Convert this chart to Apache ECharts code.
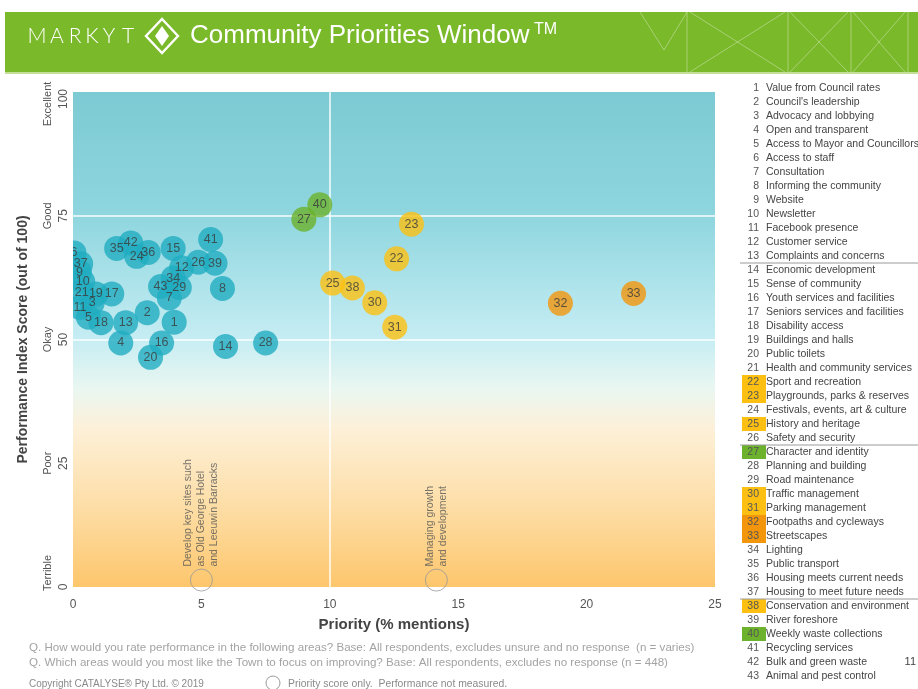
<!DOCTYPE html>
<html><head><meta charset="utf-8">
<script src="https://cdn.jsdelivr.net/npm/echarts@6/dist/echarts.min.js"></script>
<style>html,body{margin:0;padding:0;background:#fff}#c{width:918px;height:689px}</style>
</head><body><div id="c"></div>
<script>
// ---- data ----
const itemIds = [1,2,3,4,5,6,7,8,9,10,11,12,13,14,15,16,17,18,19,20,21,22,23,24,25,26,27,28,29,30,31,32,33,34,35,36,37,38,39,40,41,42,43];
const itemNames = [
  "Value from Council rates","Council's leadership","Advocacy and lobbying","Open and transparent",
  "Access to Mayor and Councillors","Access to staff","Consultation","Informing the community",
  "Website","Newsletter","Facebook presence","Customer service","Complaints and concerns",
  "Economic development","Sense of community","Youth services and facilities","Seniors services and facilities",
  "Disability access","Buildings and halls","Public toilets","Health and community services",
  "Sport and recreation","Playgrounds, parks & reserves","Festivals, events, art & culture",
  "History and heritage","Safety and security","Character and identity","Planning and building",
  "Road maintenance","Traffic management","Parking management","Footpaths and cycleways",
  "Streetscapes","Lighting","Public transport","Housing meets current needs","Housing to meet future needs",
  "Conservation and environment","River foreshore","Weekly waste collections","Recycling services",
  "Bulk and green waste","Animal and pest control"
];
// Priority (% mentions) by item id
const priority = [3.94,2.89,0.75,1.86,0.60,0.04,3.75,5.82,0.25,0.38,0.27,4.23,2.05,5.94,3.90,3.45,1.51,1.09,0.89,3.02,0.34,
  12.60,13.18,2.48,10.11,4.88,8.99,7.50,4.14,11.75,12.53,18.98,21.83,3.90,1.70,2.93,0.30,10.88,5.53,9.61,5.36,2.25,3.41];
// Performance index score by item id
const performance = [53.5,55.4,57.4,49.3,54.5,67.5,58.4,60.3,63.6,61.7,56.5,64.5,53.4,48.6,68.4,49.3,59.2,53.4,59.2,46.4,59.5,
  66.3,73.3,66.8,61.4,65.6,74.3,49.3,60.5,57.4,52.5,57.3,59.3,62.4,68.4,67.6,65.3,60.4,65.4,77.2,70.2,69.5,60.7];
const yellowIds = [22,23,25,30,31,38];
const orangeIds = [32,33];
const greenIds = [27,40];
const sectionBreaksAfter = [13,26,37];
const perfTicks = [0,25,50,75,100];
const perfTickNames = ['Terrible','Poor','Okay','Good','Excellent'];
const priorityTicks = [0,5,10,15,20,25];
const refPriority = [10];
const refPerformance = [50,75];
const priorityOnlyLabels = ['Develop key sites such\nas Old George Hotel\nand Leeuwin Barracks','Managing growth\nand development'];
const priorityOnlyX = [5.0,14.15];
const priorityOnlyY = [1.4,1.4];
const footnotes = [
  'Q. How would you rate performance in the following areas? Base: All respondents, excludes unsure and no response  (n = varies)',
  'Q. Which areas would you most like the Town to focus on improving? Base: All respondents, excludes no response (n = 448)'
];

// ---- styles ----
const FONT = 'Liberation Sans, Arial, sans-serif';
const C_TEAL = '#21adc1', C_YEL = '#fdc012', C_ORA = '#f3960c', C_GRN = '#6cb22c';
function colorOf(id){
  if (yellowIds.includes(id)) return C_YEL;
  if (orangeIds.includes(id)) return C_ORA;
  if (greenIds.includes(id)) return C_GRN;
  return C_TEAL;
}
const pointData = itemIds.map((id,i)=>({name:String(id), value:[priority[i],performance[i]], itemStyle:{color:colorOf(id)}}));

const chart = echarts.init(document.getElementById('c'), null, {renderer:'canvas'});

// ---- graphics: header, legend list, footer ----
const g = [];
g.push({type:'rect', shape:{x:5,y:12,width:913,height:60}, style:{fill:'#7ab92a'}, z:1, silent:true});
g.push({type:'rect', shape:{x:5,y:72,width:913,height:2}, style:{fill:'#c4de9a'}, z:1, silent:true});
const decoLines = [
  [[640,12],[664,50],[687,12]], [[687,12],[687,72]],
  [[690,12],[785,72]], [[785,12],[690,72]], [[788,12],[788,72]],
  [[790,12],[848,72]], [[848,12],[790,72]], [[851,12],[851,72]],
  [[853,12],[905,72]], [[905,12],[853,72]], [[908,12],[908,72]]
];
decoLines.forEach(p=>g.push({type:'polyline', shape:{points:p}, style:{stroke:'rgba(255,255,255,0.35)', lineWidth:1, fill:null}, z:2, silent:true}));
const logoLetters = ['M','A','R','K','Y','T'];
const logoCenters = [37,57,75,92,109,128];
logoLetters.forEach((ch,i)=>g.push({type:'text', x:logoCenters[i], y:36, style:{text:ch, fill:'#fff', font:'300 21px Lato, sans-serif', textAlign:'center', textVerticalAlign:'middle'}, z:3, silent:true}));
g.push({type:'polygon', shape:{points:[[162,19],[178,36],[162,53],[146,36]]}, style:{fill:null, stroke:'#fff', lineWidth:2.4}, z:3, silent:true});
g.push({type:'polygon', shape:{points:[[162,26],[169,36],[162,46],[155,36]]}, style:{fill:'#fff'}, z:3, silent:true});
g.push({type:'text', x:190, y:36, style:{text:'Community Priorities Window', fill:'#fff', font:'26px '+FONT, textVerticalAlign:'middle'}, z:3, silent:true});
g.push({type:'text', x:534, y:30, style:{text:'TM', fill:'#fff', font:'16px '+FONT, textVerticalAlign:'middle'}, z:3, silent:true});

// legend list
const listTop = 88, listStep = 14;
itemIds.forEach((id,i)=>{
  const y = listTop + i*listStep;
  const c = colorOf(id);
  if (c !== C_TEAL) g.push({type:'rect', shape:{x:742,y:y-7,width:24,height:14}, style:{fill:c}, z:2, silent:true});
  g.push({type:'text', x:759, y:y, style:{text:String(id), fill:'#555', font:'10.5px '+FONT, textAlign:'right', textVerticalAlign:'middle'}, z:3, silent:true});
  g.push({type:'text', x:766, y:y, style:{text:itemNames[i], fill:'#444', font:'10.5px '+FONT, textVerticalAlign:'middle'}, z:3, silent:true});
});
sectionBreaksAfter.forEach(n=>{
  const y = listTop + (n-1)*listStep + 7;
  g.push({type:'line', shape:{x1:740,y1:y,x2:918,y2:y}, style:{stroke:'#9a9a9a', lineWidth:1}, z:3, silent:true});
});
g.push({type:'text', x:916, y:662, style:{text:'11', fill:'#444', font:'11px '+FONT, textAlign:'right', textVerticalAlign:'middle'}, z:3, silent:true});
// footer
footnotes.forEach((t,i)=>g.push({type:'text', x:29, y:648+i*15, style:{text:t, fill:'#a3a3a3', font:'11.6px '+FONT, textVerticalAlign:'middle'}, z:3, silent:true}));
g.push({type:'text', x:29, y:684, style:{text:'Copyright CATALYSE\u00ae Pty Ltd. \u00a9 2019', fill:'#8a8a8a', font:'10px '+FONT, textVerticalAlign:'middle'}, z:3, silent:true});
g.push({type:'circle', shape:{cx:273,cy:683,r:7}, style:{fill:null, stroke:'#999', lineWidth:1}, z:3, silent:true});
g.push({type:'text', x:288, y:684, style:{text:'Priority score only.  Performance not measured.', fill:'#8a8a8a', font:'10.4px '+FONT, textVerticalAlign:'middle'}, z:3, silent:true});
// mask to clip bubbles overflowing the left edge of the plot
g.push({type:'rect', shape:{x:55,y:233,width:18,height:93}, style:{fill:'#fff'}, z:10, silent:true});

const bg = new echarts.graphic.LinearGradient(0,0,0,1,[
  {offset:0, color:'#7ccad3'},
  {offset:0.25, color:'#8fd6df'},
  {offset:0.5, color:'#c6edf3'},
  {offset:0.6, color:'#eaf7f1'},
  {offset:0.68, color:'#fdf0d8'},
  {offset:0.85, color:'#fddca2'},
  {offset:1, color:'#fdc66c'}
]);

function yLabel(v){
  const i = perfTicks.indexOf(v);
  const last = perfTicks.length-1;
  const c = i===last ? 'cTop' : (i===0 ? 'cBot' : 'c');
  const n = i===last ? 'nTop' : 'n';
  return '{'+c+'|'+perfTickNames[i]+'}\n{'+n+'|'+v+'}';
}

chart.setOption({
  animation:false,
  textStyle:{fontFamily:FONT},
  grid:{left:73, right:203, top:92, bottom:102, show:true, borderWidth:0, backgroundColor:bg},
  xAxis:{
    type:'value', min:priorityTicks[0], max:priorityTicks[priorityTicks.length-1], interval:priorityTicks[1]-priorityTicks[0],
    axisLine:{show:false}, axisTick:{show:false}, splitLine:{show:false},
    axisLabel:{color:'#555', fontSize:12, margin:12},
    name:'Priority (% mentions)', nameLocation:'middle', nameGap:30,
    nameTextStyle:{fontSize:15, fontWeight:'bold', color:'#444'}
  },
  yAxis:{
    type:'value', min:perfTicks[0], max:perfTicks[perfTicks.length-1], interval:perfTicks[1]-perfTicks[0],
    axisLine:{show:false}, axisTick:{show:false}, splitLine:{show:false},
    axisLabel:{
      rotate:90, align:'center', verticalAlign:'bottom', margin:1,
      formatter:yLabel,
      rich:{
        c:{fontSize:11, color:'#555', lineHeight:16},
        cTop:{fontSize:11, color:'#555', lineHeight:16, padding:[0,24,0,0]},
        cBot:{fontSize:11, color:'#555', lineHeight:16, padding:[0,0,0,28]},
        n:{fontSize:12, color:'#555', lineHeight:16},
        nTop:{fontSize:12, color:'#555', lineHeight:16, padding:[0,14,0,0]}
      }
    },
    name:'Performance Index Score (out of 100)', nameLocation:'middle', nameGap:43,
    nameTextStyle:{fontSize:14, fontWeight:'bold', color:'#444'}
  },
  graphic:g,
  series:[
    {
      type:'scatter', symbolSize:25, z:2, data:pointData, silent:true,
      markLine:{
        z:1, silent:true, symbol:['none','none'], label:{show:false},
        lineStyle:{color:'#ffffff', width:1.5, type:'solid', opacity:0.95},
        data:[...refPriority.map(v=>({xAxis:v})), ...refPerformance.map(v=>({yAxis:v}))]
      }
    },
    {
      type:'scatter', symbolSize:25, z:3, silent:true,
      data:pointData.map(d=>({name:d.name, value:d.value})),
      itemStyle:{color:'rgba(0,0,0,0)'},
      label:{show:true, position:'inside', formatter:p=>p.name, fontSize:12.5, color:'#3a3a3a'}
    },
    {
      type:'scatter', symbolSize:22, z:3, silent:true,
      data:priorityOnlyX.map((x,i)=>({name:priorityOnlyLabels[i], value:[x,priorityOnlyY[i]]})),
      itemStyle:{color:'rgba(0,0,0,0)', borderColor:'#999', borderWidth:1},
      label:{show:true, position:'top', distance:2, rotate:90, align:'left', verticalAlign:'middle',
        formatter:p=>p.name, fontSize:10.5, lineHeight:13, color:'#555'}
    }
  ]
});
</script></body></html>
